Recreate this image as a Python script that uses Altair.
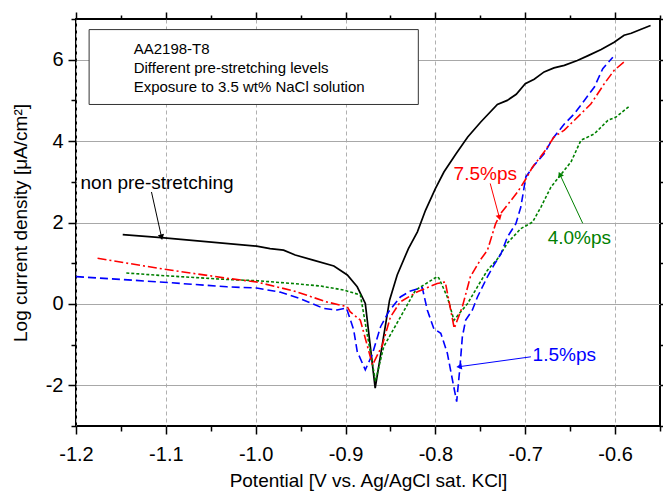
import math
import altair as alt
import pandas as pd

# ---------------- data ----------------
black_x = [-1.148, -1.105, -0.999, -0.984, -0.969, -0.956, -0.936, -0.913, -0.898, -0.887,
           -0.878, -0.867, -0.851, -0.8425, -0.830, -0.820, -0.811, -0.800, -0.7905, -0.777,
           -0.764, -0.7495, -0.731, -0.720, -0.710, -0.700, -0.690, -0.679, -0.668, -0.6565,
           -0.642, -0.630, -0.6155, -0.601, -0.590, -0.582, -0.571, -0.5605]
black_y = [1.70, 1.63, 1.42, 1.36, 1.32, 1.20, 1.075, 0.93, 0.71, 0.42,
           0.01, -2.07, 0.09, 0.71, 1.36, 1.77, 2.30, 2.83, 3.24, 3.69,
           4.10, 4.47, 4.90, 5.00, 5.15, 5.41, 5.52, 5.70, 5.80, 5.86,
           5.98, 6.10, 6.25, 6.43, 6.60, 6.65, 6.75, 6.84]

red_x = [-1.176, -1.107, -1.032, -0.999, -0.958, -0.921, -0.898, -0.895, -0.8835, -0.870,
         -0.859, -0.850, -0.839, -0.820, -0.798, -0.789, -0.779, -0.770, -0.761, -0.750,
         -0.742, -0.733, -0.727, -0.7085, -0.699, -0.692, -0.679, -0.668, -0.6565, -0.638,
         -0.627, -0.612, -0.601, -0.588]
red_y = [1.12, 0.87, 0.63, 0.54, 0.32, 0.05, -0.07, -0.19, -0.40, -1.50,
         -1.01, -0.32, 0.05, 0.30, 0.50, 0.54, -0.60, -0.07, 0.67, 1.08,
         1.32, 1.97, 2.23, 2.75, 3.08, 3.36, 3.73, 4.10, 4.27, 4.67,
         4.91, 5.41, 5.74, 5.98]

blue_x = [-1.2, -1.107, -1.032, -0.999, -0.973, -0.9505, -0.9245, -0.9095, -0.899, -0.891,
          -0.887, -0.878, -0.8704, -0.861, -0.852, -0.839, -0.8277, -0.8146, -0.809, -0.8017,
          -0.794, -0.7867, -0.781, -0.7763, -0.7726, -0.770, -0.7663, -0.7588, -0.7532, -0.742,
          -0.7347, -0.727, -0.7197, -0.7104, -0.7049, -0.6993, -0.690, -0.679, -0.6695, -0.6565,
          -0.6454, -0.6342, -0.623, -0.6137, -0.6025]
blue_y = [0.67, 0.54, 0.42, 0.39, 0.29, 0.13, -0.11, -0.15, -0.10, -0.63,
          -1.17, -1.62, -1.25, -0.56, -0.19, 0.17, 0.32, 0.40, -0.15, -0.61,
          -0.72, -1.21, -1.87, -2.40, -1.54, -0.81, -0.40, -0.15, 0.17, 0.67,
          0.96, 1.23, 1.65, 1.97, 2.38, 3.12, 3.41, 3.69, 4.06, 4.42,
          4.67, 5.00, 5.33, 5.78, 6.06]

green_x = [-1.144, -1.107, -1.032, -0.999, -0.958, -0.928, -0.902, -0.8835, -0.8667, -0.8575,
           -0.822, -0.798, -0.796, -0.7867, -0.7793, -0.772, -0.7644, -0.7532, -0.742, -0.731,
           -0.7197, -0.7049, -0.6918, -0.6825, -0.6714, -0.661, -0.649, -0.638, -0.623, -0.608,
           -0.599, -0.584]
green_y = [0.76, 0.70, 0.60, 0.57, 0.50, 0.44, 0.34, 0.22, -1.90, -1.05,
           0.34, 0.67, 0.63, 0.17, -0.40, -0.20, 0.00, 0.42, 0.83, 1.10,
           1.50, 1.85, 2.01, 2.38, 2.87, 3.16, 3.49, 4.02, 4.18, 4.51,
           4.59, 4.86]

box_lines = ["AA2198-T8", "Different pre-stretching levels", "Exposure to 3.5 wt% NaCl solution"]

x_ticks = [round(-1.2 + 0.05 * i, 2) for i in range(14)]
y_ticks = list(range(-3, 8))

# ---------------- layout ----------------
X_DOMAIN = [-1.2, -0.55]
Y_DOMAIN = [-3, 7]
W, H = 584, 407
FONT = "Liberation Sans"

xs = alt.Scale(domain=X_DOMAIN, nice=False, zero=False)
ys = alt.Scale(domain=Y_DOMAIN, nice=False, zero=False)

X_MAJOR = "abs(datum.value*10 - round(datum.value*10)) < 0.001"
Y_MAJOR = "datum.value % 2 == 0"

x_label_expr = (f"({X_MAJOR}) ? (datum.value < 0 ? '-' + format(-datum.value, '.1f') "
                f": format(datum.value, '.1f')) : ''")
y_label_expr = (f"({Y_MAJOR}) ? (datum.value < 0 ? '-' + format(-datum.value, 'd') "
                f": format(datum.value, 'd')) : ''")

common_axis = dict(
    domain=False, tickColor="black", tickWidth=1.5, labelFont=FONT, labelFontSize=20,
    labelColor="black", labelOverlap=False, labelFlush=False, titleFont=FONT,
    titleFontSize=19, titleFontWeight="normal", titleColor="black",
)

x_bottom = alt.Axis(
    orient="bottom", values=x_ticks, labelExpr=x_label_expr,
    tickSize={"condition": {"test": X_MAJOR, "value": 8}, "value": 5},
    grid=True, gridOpacity={"condition": {"test": X_MAJOR, "value": 1}, "value": 0},
    gridDash=[4, 3], gridColor="#b0b0b0", gridWidth=1,
    labelPadding=10, title="Potential [V vs. Ag/AgCl sat. KCl]", titlePadding=7,
    **common_axis,
)
y_left = alt.Axis(
    orient="left", values=y_ticks, labelExpr=y_label_expr,
    tickSize={"condition": {"test": Y_MAJOR, "value": 8}, "value": 5},
    grid=True, gridOpacity={"condition": {"test": Y_MAJOR, "value": 1}, "value": 0},
    gridColor="#a8a8a8", gridWidth=1,
    labelPadding=5, title="Log current density [μA/cm²]", titlePadding=15,
    **common_axis,
)
x_top = alt.Axis(
    orient="top", values=x_ticks, labels=False, grid=False, title=None,
    tickSize={"condition": {"test": X_MAJOR, "value": 7}, "value": 4},
    domain=False, tickColor="black", tickWidth=1.5,
)
y_right = alt.Axis(
    orient="right", values=y_ticks, labels=False, grid=False, title=None,
    tickSize={"condition": {"test": Y_MAJOR, "value": 7}, "value": 4},
    domain=False, tickColor="black", tickWidth=1.5,
)


def series_df(xv, yv):
    return pd.DataFrame({"x": xv, "y": yv, "i": list(range(len(xv)))})


def line_layer(xv, yv, color, dash, width, axes=False):
    enc_x = alt.X("x:Q", scale=xs, axis=x_bottom if axes else None)
    enc_y = alt.Y("y:Q", scale=ys, axis=y_left if axes else None)
    mk = dict(color=color, strokeWidth=width, clip=True)
    if dash:
        mk["strokeDash"] = dash
    return alt.Chart(series_df(xv, yv)).mark_line(**mk).encode(
        x=enc_x, y=enc_y, order="i:Q")


# ---------------- info box ----------------
box_df = pd.DataFrame({"x": [-1.1854], "x2": [-0.819], "y": [6.74], "y2": [4.90]})
box = alt.Chart(box_df).mark_rect(fill="white", stroke="#333333", strokeWidth=1).encode(
    x=alt.X("x:Q", scale=xs, axis=x_top), x2="x2:Q",
    y=alt.Y("y:Q", scale=ys, axis=y_right), y2="y2:Q",
)
box_text_df = pd.DataFrame({"t": box_lines, "x": [-1.1358] * 3, "y": [6.27, 5.79, 5.33]})
box_text = alt.Chart(box_text_df).mark_text(
    align="left", baseline="middle", font=FONT, fontSize=15, color="black").encode(
    x=alt.X("x:Q", scale=xs, axis=None), y=alt.Y("y:Q", scale=ys, axis=None), text="t:N")

# ---------------- annotations ----------------
labels = ["non pre-stretching", "7.5%ps", "4.0%ps", "1.5%ps"]
label_colors = ["black", "#ff0000", "#008000", "#0000ff"]
label_x = [-1.195, -0.7797, -0.675, -0.6918]
label_y = [2.97, 3.20, 1.62, -1.26]
arrow_x0 = [-1.116, -0.739, -0.636, -0.6937]
arrow_y0 = [2.75, 2.96, 1.98, -1.30]
arrow_x1 = [-1.105, -0.729, -0.661, -0.7726]
arrow_y1 = [1.66, 2.14, 3.16, -1.54]


def head_angle(x0, y0, x1, y1):
    dx = (x1 - x0) * W / (X_DOMAIN[1] - X_DOMAIN[0])
    dy = -(y1 - y0) * H / (Y_DOMAIN[1] - Y_DOMAIN[0])
    return math.degrees(math.atan2(dx, -dy)) % 360


annots = []
for k in range(len(labels)):
    tdf = pd.DataFrame({"x": [label_x[k]], "y": [label_y[k]], "t": [labels[k]]})
    annots.append(alt.Chart(tdf).mark_text(
        align="left", baseline="middle", font=FONT, fontSize=19, color=label_colors[k]).encode(
        x=alt.X("x:Q", scale=xs, axis=None), y=alt.Y("y:Q", scale=ys, axis=None), text="t:N"))
    adf = pd.DataFrame({"x": [arrow_x0[k]], "y": [arrow_y0[k]],
                        "x2": [arrow_x1[k]], "y2": [arrow_y1[k]]})
    annots.append(alt.Chart(adf).mark_rule(color=label_colors[k], strokeWidth=1).encode(
        x=alt.X("x:Q", scale=xs, axis=None), y=alt.Y("y:Q", scale=ys, axis=None),
        x2="x2:Q", y2="y2:Q"))
    hdf = pd.DataFrame({"x": [arrow_x1[k]], "y": [arrow_y1[k]]})
    annots.append(alt.Chart(hdf).mark_point(
        shape="triangle", filled=True, size=40, opacity=1, color=label_colors[k],
        angle=head_angle(arrow_x0[k], arrow_y0[k], arrow_x1[k], arrow_y1[k])).encode(
        x=alt.X("x:Q", scale=xs, axis=None), y=alt.Y("y:Q", scale=ys, axis=None)))

black = line_layer(black_x, black_y, "black", None, 1.7, axes=True)
red = line_layer(red_x, red_y, "#ff0000", [9, 3, 2, 3], 1.6)
blue = line_layer(blue_x, blue_y, "#0000ff", [8, 4], 1.6)
green = line_layer(green_x, green_y, "#008000", [3, 2], 1.6)

chart = alt.layer(black, box, box_text, green, blue, red, *annots).resolve_axis(
    x="independent", y="independent"
).properties(
    width=W, height=H,
    autosize=alt.AutoSizeParams(type="none"),
    padding={"left": 76, "top": 19, "right": 3, "bottom": 65},
).configure_view(stroke="black", strokeWidth=2)

chart.save("out.html", embed_options={"renderer": "svg", "actions": False})
